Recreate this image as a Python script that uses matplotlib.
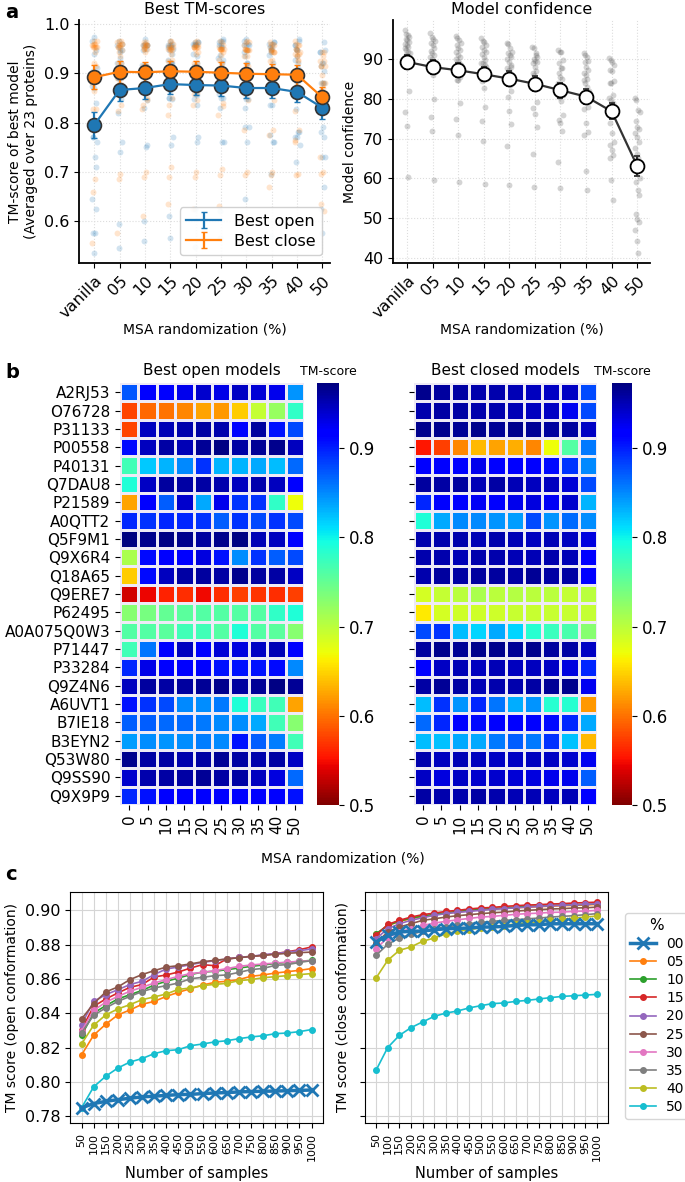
import numpy as np
import matplotlib
matplotlib.use("Agg")
import matplotlib.pyplot as plt

# ---------------- data ----------------
msa_labels = ["vanilla", "05", "10", "15", "20", "25", "30", "35", "40", "50"]
heat_cols = ["0", "5", "10", "15", "20", "25", "30", "35", "40", "50"]
proteins = ["A2RJ53", "O76728", "P31133", "P00558", "P40131", "Q7DAU8", "P21589",
            "A0QTT2", "Q5F9M1", "Q9X6R4", "Q18A65", "Q9ERE7", "P62495", "A0A075Q0W3",
            "P71447", "P33284", "Q9Z4N6", "A6UVT1", "B7IE18", "B3EYN2", "Q53W80",
            "Q9SS90", "Q9X9P9"]

open_tm = [
    [0.875, 0.921, 0.917, 0.927, 0.940, 0.930, 0.944, 0.937, 0.927, 0.845],
    [0.576, 0.595, 0.600, 0.610, 0.625, 0.620, 0.645, 0.695, 0.720, 0.780],
    [0.576, 0.947, 0.950, 0.953, 0.957, 0.953, 0.921, 0.960, 0.905, 0.880],
    [0.910, 0.947, 0.957, 0.950, 0.963, 0.970, 0.957, 0.963, 0.966, 0.947],
    [0.770, 0.820, 0.830, 0.850, 0.890, 0.830, 0.830, 0.835, 0.827, 0.864],
    [0.790, 0.944, 0.960, 0.957, 0.957, 0.953, 0.947, 0.953, 0.947, 0.921],
    [0.625, 0.921, 0.870, 0.940, 0.836, 0.927, 0.890, 0.890, 0.780, 0.670],
    [0.897, 0.890, 0.897, 0.897, 0.890, 0.870, 0.890, 0.880, 0.890, 0.880],
    [0.973, 0.966, 0.970, 0.966, 0.960, 0.966, 0.970, 0.950, 0.947, 0.921],
    [0.710, 0.910, 0.915, 0.920, 0.934, 0.905, 0.848, 0.890, 0.870, 0.880],
    [0.645, 0.910, 0.947, 0.957, 0.960, 0.957, 0.966, 0.960, 0.957, 0.944],
    [0.535, 0.545, 0.560, 0.565, 0.548, 0.565, 0.575, 0.570, 0.565, 0.575],
    [0.730, 0.740, 0.750, 0.755, 0.760, 0.760, 0.760, 0.760, 0.780, 0.790],
    [0.760, 0.760, 0.755, 0.770, 0.770, 0.760, 0.790, 0.760, 0.755, 0.730],
    [0.770, 0.860, 0.915, 0.947, 0.915, 0.937, 0.934, 0.944, 0.950, 0.915],
    [0.897, 0.930, 0.915, 0.921, 0.915, 0.905, 0.905, 0.905, 0.910, 0.850],
    [0.947, 0.960, 0.957, 0.960, 0.963, 0.966, 0.960, 0.963, 0.970, 0.963],
    [0.905, 0.890, 0.880, 0.850, 0.848, 0.858, 0.790, 0.775, 0.770, 0.625],
    [0.870, 0.870, 0.864, 0.864, 0.858, 0.850, 0.848, 0.836, 0.770, 0.730],
    [0.840, 0.848, 0.845, 0.848, 0.855, 0.850, 0.905, 0.870, 0.855, 0.770],
    [0.966, 0.957, 0.957, 0.953, 0.957, 0.963, 0.957, 0.953, 0.957, 0.944],
    [0.940, 0.953, 0.957, 0.957, 0.963, 0.957, 0.957, 0.947, 0.934, 0.864],
    [0.897, 0.905, 0.915, 0.921, 0.921, 0.921, 0.921, 0.921, 0.921, 0.905],
]

closed_tm = [
    [0.966, 0.960, 0.957, 0.953, 0.953, 0.950, 0.947, 0.944, 0.944, 0.880],
    [0.953, 0.957, 0.957, 0.953, 0.953, 0.950, 0.947, 0.944, 0.925, 0.880],
    [0.966, 0.966, 0.963, 0.966, 0.963, 0.966, 0.963, 0.960, 0.960, 0.944],
    [0.555, 0.575, 0.610, 0.635, 0.625, 0.630, 0.610, 0.670, 0.760, 0.858],
    [0.915, 0.921, 0.915, 0.927, 0.921, 0.921, 0.915, 0.910, 0.890, 0.850],
    [0.960, 0.957, 0.960, 0.950, 0.957, 0.950, 0.947, 0.947, 0.937, 0.880],
    [0.897, 0.921, 0.915, 0.924, 0.921, 0.927, 0.934, 0.924, 0.940, 0.830],
    [0.790, 0.836, 0.850, 0.850, 0.845, 0.840, 0.880, 0.845, 0.864, 0.848],
    [0.953, 0.953, 0.953, 0.950, 0.953, 0.950, 0.947, 0.950, 0.947, 0.934],
    [0.953, 0.953, 0.950, 0.953, 0.953, 0.950, 0.950, 0.953, 0.950, 0.915],
    [0.953, 0.960, 0.957, 0.960, 0.960, 0.957, 0.963, 0.957, 0.957, 0.915],
    [0.685, 0.695, 0.700, 0.710, 0.700, 0.705, 0.700, 0.700, 0.695, 0.700],
    [0.660, 0.685, 0.690, 0.690, 0.690, 0.693, 0.693, 0.693, 0.693, 0.695],
    [0.880, 0.890, 0.827, 0.815, 0.836, 0.815, 0.785, 0.775, 0.765, 0.730],
    [0.960, 0.966, 0.963, 0.966, 0.966, 0.963, 0.966, 0.960, 0.957, 0.944],
    [0.920, 0.944, 0.950, 0.947, 0.950, 0.947, 0.947, 0.944, 0.934, 0.897],
    [0.957, 0.963, 0.957, 0.950, 0.953, 0.953, 0.957, 0.963, 0.966, 0.925],
    [0.827, 0.890, 0.845, 0.897, 0.860, 0.833, 0.845, 0.785, 0.785, 0.620],
    [0.864, 0.897, 0.915, 0.910, 0.915, 0.915, 0.915, 0.910, 0.897, 0.836],
    [0.827, 0.824, 0.836, 0.836, 0.858, 0.870, 0.858, 0.890, 0.824, 0.635],
    [0.953, 0.947, 0.950, 0.947, 0.944, 0.944, 0.947, 0.944, 0.940, 0.925],
    [0.944, 0.934, 0.944, 0.940, 0.940, 0.937, 0.934, 0.927, 0.927, 0.870],
    [0.957, 0.953, 0.953, 0.957, 0.953, 0.950, 0.950, 0.947, 0.950, 0.915],
]

# averaged best TM-scores (panel a, left)
open_mean = [0.795, 0.866, 0.870, 0.878, 0.876, 0.875, 0.870, 0.870, 0.862, 0.830]
open_err = [0.027, 0.022, 0.022, 0.021, 0.021, 0.021, 0.021, 0.021, 0.020, 0.022]
close_mean = [0.892, 0.903, 0.902, 0.904, 0.903, 0.901, 0.899, 0.898, 0.897, 0.851]
close_err = [0.024, 0.022, 0.021, 0.021, 0.021, 0.021, 0.021, 0.021, 0.020, 0.022]

# model confidence (panel a, right)
conf_mean = [89.2, 87.9, 87.1, 86.1, 85.0, 83.7, 82.1, 80.5, 76.8, 63.1]
conf_err = [1.8, 1.8, 1.8, 1.8, 1.8, 1.9, 1.9, 1.9, 2.0, 2.6]
conf_vals = [
    [97.2, 96.2, 95.9, 95.5, 95.0, 94.7, 94.3, 93.8, 93.5, 93.0, 92.6, 92.2, 91.8,
     91.5, 91.0, 90.6, 90.2, 89.8, 88.8, 81.9, 76.7, 73.2, 60.4],
    [96.4, 95.5, 95.0, 94.5, 93.9, 93.4, 92.6, 92.0, 91.5, 90.9, 90.5, 90.0, 89.5,
     89.0, 88.5, 88.0, 87.5, 86.8, 85.9, 79.9, 75.3, 72.0, 59.6],
    [95.8, 95.2, 94.7, 94.0, 93.4, 92.8, 92.3, 91.8, 91.0, 90.5, 89.9, 89.4, 89.0,
     88.5, 87.8, 86.8, 85.5, 84.7, 84.6, 78.8, 74.9, 71.0, 59.0],
    [95.1, 94.5, 94.3, 93.5, 93.0, 92.2, 91.8, 91.2, 90.5, 89.8, 89.0, 88.8, 88.3,
     87.8, 87.0, 86.8, 86.0, 84.5, 82.7, 77.8, 74.4, 69.5, 58.6],
    [93.9, 93.6, 92.8, 91.8, 91.4, 91.0, 90.5, 90.0, 89.2, 88.5, 87.6, 87.2, 86.5,
     85.5, 84.0, 83.4, 81.9, 80.5, 76.9, 73.6, 68.1, 58.3, 88.0],
    [93.0, 92.7, 91.5, 90.5, 90.0, 89.5, 89.2, 88.8, 88.0, 87.0, 86.5, 85.8, 85.0,
     84.2, 83.5, 82.5, 79.2, 77.7, 76.1, 72.9, 66.1, 57.9, 91.0],
    [92.2, 91.8, 91.6, 89.7, 89.0, 87.7, 87.6, 86.5, 85.5, 85.0, 84.0, 83.0, 82.5,
     81.0, 80.5, 79.5, 75.9, 74.6, 74.0, 72.0, 64.1, 57.5, 82.0],
    [91.4, 90.9, 90.5, 89.5, 89.2, 88.0, 87.2, 86.5, 85.9, 85.0, 84.7, 84.0, 83.0,
     82.0, 80.9, 80.0, 78.0, 77.5, 73.8, 71.7, 70.9, 61.8, 57.2],
    [90.1, 89.6, 89.2, 88.3, 87.2, 86.8, 84.3, 84.0, 83.8, 80.9, 80.2, 79.7, 79.0,
     76.7, 74.0, 71.3, 69.2, 68.3, 67.1, 65.9, 65.0, 59.6, 54.6],
    [80.1, 79.6, 77.2, 76.7, 74.5, 73.0, 72.3, 71.3, 70.5, 69.2, 67.5, 66.0, 65.2,
     60.0, 59.2, 57.1, 55.8, 51.2, 49.8, 49.2, 47.1, 44.2, 41.3],
]

# panel c: TM score vs number of samples
n_samples = [50, 100, 150, 200, 250, 300, 350, 400, 450, 500,
             550, 600, 650, 700, 750, 800, 850, 900, 950, 1000]
pct_labels = ["00", "05", "10", "15", "20", "25", "30", "35", "40", "50"]
open_curves = [
    [0.7849, 0.7874, 0.7887, 0.7897, 0.7905, 0.7913, 0.7917, 0.7922, 0.7926, 0.7928,
     0.7932, 0.7936, 0.7938, 0.7942, 0.7944, 0.7946, 0.7947, 0.7949, 0.7951, 0.7953],
    [0.8157, 0.8272, 0.8336, 0.8390, 0.8419, 0.8452, 0.8469, 0.8498, 0.8522, 0.8543,
     0.8564, 0.8580, 0.8586, 0.8596, 0.8615, 0.8623, 0.8634, 0.8642, 0.8650, 0.8660],
    [0.8271, 0.8401, 0.8444, 0.8483, 0.8508, 0.8533, 0.8564, 0.8586, 0.8605, 0.8625,
     0.8640, 0.8644, 0.8654, 0.8663, 0.8673, 0.8681, 0.8690, 0.8696, 0.8702, 0.8708],
    [0.8305, 0.8440, 0.8483, 0.8518, 0.8551, 0.8567, 0.8611, 0.8623, 0.8640, 0.8663,
     0.8683, 0.8677, 0.8716, 0.8725, 0.8731, 0.8737, 0.8747, 0.8758, 0.8770, 0.8786],
    [0.8334, 0.8469, 0.8508, 0.8537, 0.8567, 0.8586, 0.8625, 0.8658, 0.8669, 0.8683,
     0.8696, 0.8706, 0.8716, 0.8725, 0.8731, 0.8741, 0.8747, 0.8756, 0.8764, 0.8774],
    [0.8366, 0.8456, 0.8524, 0.8553, 0.8596, 0.8625, 0.8648, 0.8669, 0.8677, 0.8687,
     0.8700, 0.8708, 0.8716, 0.8723, 0.8731, 0.8737, 0.8743, 0.8749, 0.8753, 0.8756],
    [0.8295, 0.8417, 0.8464, 0.8498, 0.8528, 0.8551, 0.8576, 0.8596, 0.8615, 0.8631,
     0.8638, 0.8648, 0.8660, 0.8673, 0.8681, 0.8687, 0.8692, 0.8698, 0.8702, 0.8706],
    [0.8285, 0.8388, 0.8431, 0.8469, 0.8498, 0.8526, 0.8547, 0.8561, 0.8576, 0.8601,
     0.8609, 0.8619, 0.8623, 0.8638, 0.8654, 0.8661, 0.8679, 0.8683, 0.8696, 0.8706],
    [0.8221, 0.8330, 0.8390, 0.8425, 0.8450, 0.8479, 0.8495, 0.8512, 0.8539, 0.8547,
     0.8561, 0.8568, 0.8574, 0.8590, 0.8596, 0.8607, 0.8613, 0.8619, 0.8625, 0.8631],
    [0.7849, 0.7971, 0.8033, 0.8081, 0.8116, 0.8136, 0.8165, 0.8182, 0.8188, 0.8211,
     0.8221, 0.8233, 0.8240, 0.8252, 0.8262, 0.8269, 0.8281, 0.8285, 0.8293, 0.8305],
]
close_curves = [
    [0.8815, 0.8853, 0.8873, 0.8877, 0.8879, 0.8886, 0.8892, 0.8894, 0.8896, 0.8902,
     0.8902, 0.8906, 0.8911, 0.8915, 0.8915, 0.8921, 0.8921, 0.8921, 0.8921, 0.8921],
    [0.8859, 0.8910, 0.8935, 0.8950, 0.8964, 0.8974, 0.8983, 0.8989, 0.8997, 0.9003,
     0.9007, 0.9011, 0.9014, 0.9018, 0.9020, 0.9024, 0.9026, 0.9028, 0.9030, 0.9034],
    [0.8863, 0.8911, 0.8937, 0.8954, 0.8966, 0.8976, 0.8985, 0.8993, 0.8999, 0.9005,
     0.9009, 0.9013, 0.9018, 0.9022, 0.9024, 0.9028, 0.9030, 0.9032, 0.9034, 0.9036],
    [0.8853, 0.8917, 0.8941, 0.8960, 0.8974, 0.8983, 0.8993, 0.8999, 0.9007, 0.9013,
     0.9016, 0.9022, 0.9026, 0.9030, 0.9032, 0.9036, 0.9038, 0.9042, 0.9044, 0.9047],
    [0.8834, 0.8892, 0.8921, 0.8941, 0.8956, 0.8970, 0.8980, 0.8987, 0.8993, 0.8999,
     0.9005, 0.9009, 0.9014, 0.9018, 0.9022, 0.9026, 0.9028, 0.9032, 0.9034, 0.9038],
    [0.8809, 0.8873, 0.8902, 0.8921, 0.8941, 0.8950, 0.8960, 0.8968, 0.8974, 0.8980,
     0.8985, 0.8989, 0.8995, 0.8999, 0.9003, 0.9007, 0.9009, 0.9013, 0.9014, 0.9018],
    [0.8776, 0.8840, 0.8873, 0.8892, 0.8911, 0.8925, 0.8935, 0.8944, 0.8952, 0.8960,
     0.8964, 0.8970, 0.8976, 0.8980, 0.8983, 0.8987, 0.8989, 0.8993, 0.8995, 0.8999],
    [0.8737, 0.8801, 0.8838, 0.8859, 0.8877, 0.8892, 0.8902, 0.8911, 0.8921, 0.8929,
     0.8935, 0.8941, 0.8944, 0.8950, 0.8954, 0.8960, 0.8964, 0.8968, 0.8974, 0.8980],
    [0.8605, 0.8708, 0.8766, 0.8786, 0.8819, 0.8838, 0.8863, 0.8877, 0.8886, 0.8898,
     0.8904, 0.8910, 0.8921, 0.8927, 0.8931, 0.8941, 0.8947, 0.8954, 0.8960, 0.8966],
    [0.8068, 0.8200, 0.8271, 0.8316, 0.8349, 0.8382, 0.8401, 0.8413, 0.8431, 0.8444,
     0.8456, 0.8460, 0.8469, 0.8475, 0.8483, 0.8491, 0.8498, 0.8502, 0.8506, 0.8510],
]

# ---------------- layout helpers ----------------
W, H = 685, 1182
fig = plt.figure(figsize=(W / 100, H / 100), dpi=100)


def ax_px(left, top, right, bottom):
    return fig.add_axes([left / W, 1 - bottom / H, (right - left) / W, (bottom - top) / H])


def clean(ax):
    ax.spines['top'].set_visible(False)
    ax.spines['right'].set_visible(False)
    ax.spines['left'].set_linewidth(1.3)
    ax.spines['bottom'].set_linewidth(1.3)


grid_kw = dict(color='#dddddd', linestyle=':', linewidth=0.8)
x = np.arange(len(msa_labels))
# fixed horizontal spread for the per-protein dots
jit = (np.arange(23) * 7 % 23) / 22.0 * 0.2 - 0.1

# ---------------- panel a ----------------
open_arr = np.array(open_tm)
close_arr = np.array(closed_tm)

ax1 = ax_px(79, 20, 330, 263)
for i in range(len(x)):
    ax1.scatter(x[i] + jit, open_arr[:, i], s=18, color='C0', alpha=0.2, lw=0)
    ax1.scatter(x[i] - jit, close_arr[:, i], s=18, color='C1', alpha=0.2, lw=0)
ax1.errorbar(x, open_mean, yerr=open_err, color='C0', lw=1.6, capsize=2.5, label='Best open')
ax1.errorbar(x, close_mean, yerr=close_err, color='C1', lw=1.6, capsize=2.5, label='Best close')
ax1.plot(x, open_mean, 'o', ms=10, mfc='C0', mec='#333333', mew=1.2)
ax1.plot(x, close_mean, 'o', ms=10, mfc='C1', mec='#333333', mew=1.2)
ax1.set_xlim(-0.6, 9.3)
ax1.set_ylim(0.515, 1.008)
ax1.set_yticks([0.6, 0.7, 0.8, 0.9, 1.0])
ax1.set_xticks(x)
ax1.set_xticklabels(msa_labels, rotation=45, ha='right', rotation_mode='anchor')
ax1.tick_params(labelsize=11.5)
ax1.grid(True, **grid_kw)
ax1.set_axisbelow(True)
clean(ax1)
ax1.set_title('Best TM-scores', fontsize=11.5, pad=4)
ax1.set_ylabel('TM-score of best model\n(Averaged over 23 proteins)', fontsize=10)
ax1.set_xlabel('MSA randomization (%)', fontsize=10, labelpad=1)
leg = ax1.legend(loc='lower right', fontsize=11.5, handlelength=2.2,
                 borderpad=0.4, labelspacing=0.3, framealpha=0.9)

ax2 = ax_px(393, 20, 650, 263)
conf_arr = np.array(conf_vals)
for i in range(len(x)):
    ax2.scatter(x[i] + jit, conf_arr[i], s=18, color='#555555', alpha=0.25, lw=0)
ax2.errorbar(x, conf_mean, yerr=conf_err, color='#333333', lw=1.6, capsize=2.5,
             marker='o', ms=10, mfc='white', mec='black', mew=1.3)
ax2.set_xlim(-0.55, 9.5)
ax2.set_ylim(38.8, 99.7)
ax2.set_yticks([40, 50, 60, 70, 80, 90])
ax2.set_xticks(x)
ax2.set_xticklabels(msa_labels, rotation=45, ha='right', rotation_mode='anchor')
ax2.tick_params(labelsize=11.5)
ax2.grid(True, **grid_kw)
ax2.set_axisbelow(True)
clean(ax2)
ax2.set_title('Model confidence', fontsize=11.5, pad=4)
ax2.set_ylabel('Model confidence', fontsize=10)
ax2.set_xlabel('MSA randomization (%)', fontsize=10, labelpad=1)

# ---------------- panel b ----------------
vmin, vmax = 0.5, 0.973
cmap = plt.get_cmap('jet_r')


def heat(ax, cax, data, title, show_names):
    m = ax.pcolormesh(np.array(data), cmap=cmap, vmin=vmin, vmax=vmax,
                      edgecolors='#eeeaf6', linewidth=0.8)
    ax.set_xlim(0, len(heat_cols))
    ax.set_ylim(len(proteins), 0)
    ax.set_xticks(np.arange(len(heat_cols)) + 0.5)
    ax.set_xticklabels(heat_cols, rotation=90, fontsize=11)
    ax.set_yticks(np.arange(len(proteins)) + 0.5)
    if show_names:
        ax.set_yticklabels(proteins, fontsize=11)
    else:
        ax.set_yticklabels([])
    for s in ax.spines.values():
        s.set_visible(False)
    ax.set_title(title, fontsize=11, pad=6)
    cb = fig.colorbar(m, cax=cax, ticks=[0.5, 0.6, 0.7, 0.8, 0.9])
    cb.outline.set_visible(False)
    cb.ax.tick_params(labelsize=12)
    cax.set_title('TM-score', fontsize=9, pad=6)


axh1 = ax_px(120, 383, 304, 805)
cax1 = ax_px(317, 383, 339, 805)
heat(axh1, cax1, open_tm, 'Best open models', True)
axh2 = ax_px(414, 383, 597, 805)
cax2 = ax_px(612, 383, 632, 805)
heat(axh2, cax2, closed_tm, 'Best closed models', False)
fig.text(343 / W, 1 - 858 / H, 'MSA randomization (%)', ha='center', va='center', fontsize=10)

# ---------------- panel c ----------------
colors = ['C%d' % i for i in range(10)]


def curves(ax, data):
    for i, lab in enumerate(pct_labels):
        if i == 0:
            ax.plot(n_samples, data[i], color=colors[i], marker='x', ms=8, mew=2,
                    lw=2.5, label=lab, zorder=3)
        else:
            ax.plot(n_samples, data[i], color=colors[i], marker='o', ms=4,
                    lw=1.2, label=lab)
    ax.set_ylim(0.7761, 0.9106)
    ax.set_yticks([0.78, 0.80, 0.82, 0.84, 0.86, 0.88, 0.90])
    ax.set_xticks(n_samples)
    ax.set_xticklabels([str(n) for n in n_samples], rotation=90, fontsize=8)
    ax.tick_params(axis='y', labelsize=11.5)
    ax.grid(True, color='#d5d5d5', linewidth=0.8)
    ax.set_axisbelow(True)
    ax.set_xlabel('Number of samples', fontsize=10.5)


axc1 = ax_px(70, 892, 323, 1123)
curves(axc1, open_curves)
axc1.set_ylabel('TM score (open conformation)', fontsize=10)
axc2 = ax_px(365, 892, 608, 1123)
curves(axc2, close_curves)
axc2.set_yticklabels([])
axc2.set_ylabel('TM score (close conformation)', fontsize=10)
axc2.legend(title='%', loc='upper left', bbox_to_anchor=(1.07, 0.91), fontsize=10,
            title_fontsize=11, handlelength=1.9, labelspacing=0.3,
            borderaxespad=0.0, handletextpad=0.7, borderpad=0.35)

# panel letters
for lab, yy in [('a', 13), ('b', 372), ('c', 875)]:
    fig.text(5 / W, 1 - yy / H, lab, fontsize=14, fontweight='bold', va='center')

fig.savefig('out.png', dpi=100)
